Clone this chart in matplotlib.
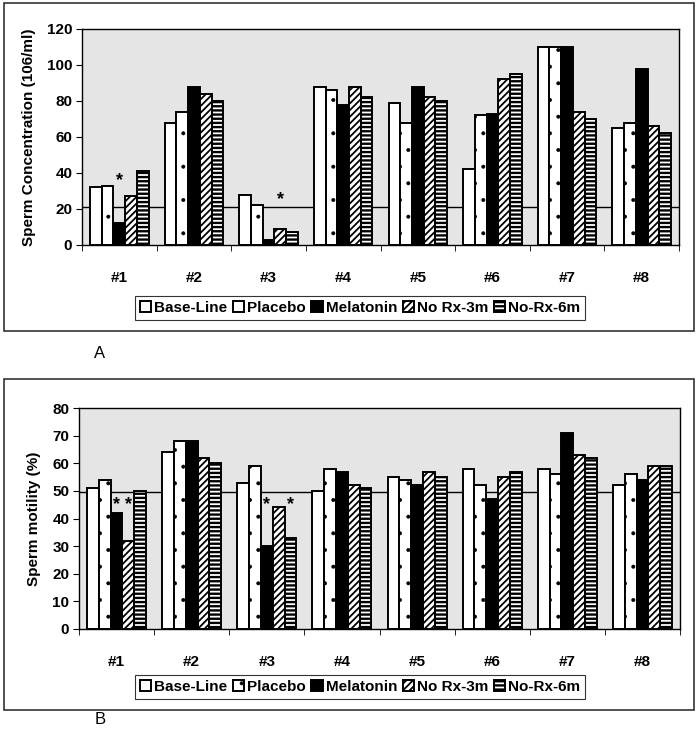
import matplotlib
matplotlib.use("Agg")
import matplotlib.pyplot as plt
import numpy as np
from matplotlib.patches import Rectangle

plt.rcParams['font.family'] = ['Liberation Sans', 'DejaVu Sans']

categories = ['#1', '#2', '#3', '#4', '#5', '#6', '#7', '#8']
series = ['Base-Line', 'Placebo', 'Melatonin', 'No Rx-3m', 'No-Rx-6m']

conc_base = [32, 68, 28, 88, 79, 42, 110, 65]
conc_placebo = [33, 74, 22, 86, 68, 72, 110, 68]
conc_melatonin = [12, 88, 3, 78, 88, 73, 110, 98]
conc_norx3 = [27, 84, 9, 88, 82, 92, 74, 66]
conc_norx6 = [41, 80, 7, 82, 80, 95, 70, 62]
conc_ref = 21

mot_base = [51, 64, 53, 50, 55, 58, 58, 52]
mot_placebo = [54, 68, 59, 58, 54, 52, 56, 56]
mot_melatonin = [42, 68, 30, 57, 52, 47, 71, 54]
mot_norx3 = [32, 62, 44, 52, 57, 55, 63, 59]
mot_norx6 = [50, 60, 33, 51, 55, 57, 62, 59]
mot_ref = 49.5

# star annotations: (category index, series index, y)
conc_stars = [(0, 2, 36), (2, 3, 25)]
mot_stars = [(0, 2, 45), (0, 3, 45), (2, 2, 45), (2, 4, 45)]

styles = [
    dict(facecolor='white', hatch=None),
    dict(facecolor='white', hatch='.'),
    dict(facecolor='black', hatch=None),
    dict(facecolor='white', hatch='/////'),
    dict(facecolor='white', hatch='----'),
]
hatch_lw = [1.0, 0.4, 1.0, 1.3, 1.7]

W, H = 697, 738
fig = plt.figure(figsize=(W / 100, H / 100), dpi=100)


def fx(px):
    return px / W


def fy(py):
    return 1 - py / H


def panel(rect_px, data, ylim, yticks, ylabel, ref, stars, legend_center_px, box_px, letter_px, letter):
    l, t, r, b = rect_px
    ax = fig.add_axes([fx(l), fy(b), fx(r) - fx(l), fy(t) - fy(b)])
    ax.set_facecolor('#e5e5e5')
    n = len(series)
    bw = 0.157
    x = np.arange(len(categories))
    handles = []
    for i, (name, vals) in enumerate(zip(series, data)):
        off = (i - (n - 1) / 2) * bw
        bars = ax.bar(x + off, vals, width=bw, edgecolor='black', linewidth=1.4,
                      label=name, zorder=3, **styles[i])
        for p in bars:
            if hasattr(p, 'set_hatch_linewidth'):
                p.set_hatch_linewidth(hatch_lw[i])
        handles.append(bars)
    ax.axhline(ref, color='black', linewidth=1.0, zorder=2)
    for (ci, si, yv) in stars:
        off = (si - (n - 1) / 2) * bw
        ax.text(ci + off, yv, '*', ha='center', va='center', fontsize=13,
                fontweight='bold', zorder=4)
    ax.set_xlim(-0.5, len(categories) - 0.5)
    ax.set_ylim(*ylim)
    ax.set_yticks(yticks)
    ax.set_yticklabels([str(v) for v in yticks], fontsize=11, fontweight='bold')
    ax.set_xticks(x)
    ax.set_xticklabels(categories, fontsize=11, fontweight='bold')
    ax.tick_params(axis='x', which='major', length=0, pad=19)
    ax.set_xticks(np.arange(len(categories) + 1) - 0.5, minor=True)
    ax.tick_params(axis='x', which='minor', length=4, direction='out')
    ax.tick_params(axis='y', length=4, direction='out', pad=3)
    ax.set_ylabel(ylabel, fontsize=11, fontweight='bold', labelpad=8)
    for s in ax.spines.values():
        s.set_linewidth(1.0)
    lx, ly = legend_center_px
    leg = fig.legend(handles=handles, labels=series, loc='center',
                     bbox_to_anchor=(fx(lx), fy(ly)), ncol=5, frameon=True,
                     fancybox=False, edgecolor='black', handlelength=0.75,
                     handleheight=0.75, handletextpad=0.2, columnspacing=0.35,
                     borderpad=0.3, borderaxespad=0, prop=dict(size=11, weight='bold'))
    leg.get_frame().set_linewidth(0.8)
    for i, p in enumerate(leg.get_patches()):
        if hasattr(p, 'set_hatch_linewidth'):
            p.set_hatch_linewidth(hatch_lw[i])
    bl, bt, br, bb = box_px
    fig.patches.append(Rectangle((fx(bl), fy(bb)), fx(br) - fx(bl), fy(bt) - fy(bb),
                                 transform=fig.transFigure, fill=False,
                                 edgecolor='#333333', linewidth=1.2))
    fig.text(fx(letter_px[0]), fy(letter_px[1]), letter, ha='center', va='center',
             fontsize=12)
    return ax


panel((82, 29, 679, 245),
      [conc_base, conc_placebo, conc_melatonin, conc_norx3, conc_norx6],
      (0, 120), [0, 20, 40, 60, 80, 100, 120], 'Sperm Concentration (106/ml)',
      conc_ref, conc_stars, (360, 308), (4, 3, 694, 331), (100, 353), 'A')

panel((79, 408, 680, 629),
      [mot_base, mot_placebo, mot_melatonin, mot_norx3, mot_norx6],
      (0, 80), [0, 10, 20, 30, 40, 50, 60, 70, 80], 'Sperm motility (%)',
      mot_ref, mot_stars, (360, 687), (4, 379, 694, 710), (100, 720), 'B')

fig.savefig('out.png', dpi=100)
